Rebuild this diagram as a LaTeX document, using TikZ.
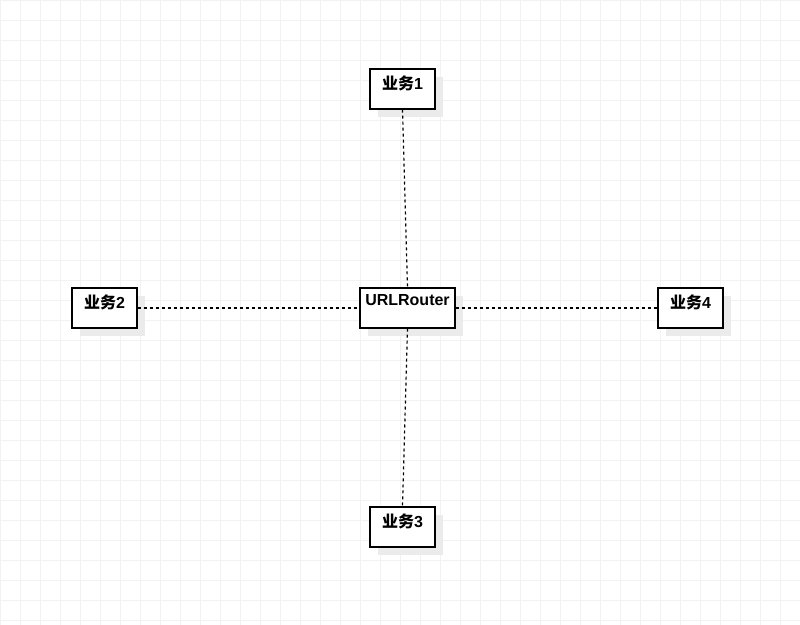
\documentclass[tikz,border=0pt]{standalone}
\usepackage{fontspec}
\setmainfont{Liberation Sans}
\newfontfamily\cjk{Noto Sans CJK SC}
\begin{document}
\begin{tikzpicture}[x=0.75pt,y=-0.75pt,
  box/.style={draw=black,fill=white,line width=0.8pt,minimum width=48.75pt,minimum height=30pt,
    inner sep=0pt},
  lbl/.style={font=\bfseries\fontsize{12}{14}\selectfont,anchor=north,inner sep=0pt},
  conn/.style={line width=0.9pt,dash pattern=on 2.25pt off 2.25pt}]
\fill[white] (0,0) rectangle (800,625);
\useasboundingbox (0,0) rectangle (800,625);
\foreach \x in {0,20,...,800} \draw[black!5,line width=0.5pt] (\x,0) -- (\x,625);
\foreach \y in {0,20,...,620} \draw[black!5,line width=0.5pt] (0,\y) -- (800,\y);
\foreach \cx/\cy/\w in {402.5/89/65, 407.5/308/95, 104.5/308/65, 690.5/308/65, 402.5/527/65}
  \fill[black!8] (\cx-\w/2+8,\cy-20+8) rectangle (\cx+\w/2+8,\cy+20+8);
\node[box,minimum width=48.75pt] (b1) at (402.5,89) {};
\node[box,minimum width=71.25pt] (r) at (407.5,308) {};
\node[box] (b2) at (104.5,308) {};
\node[box] (b4) at (690.5,308) {};
\node[box] (b3) at (402.5,527) {};
\node[lbl] (t1) at ([yshift=-5pt]b1.north) {{\cjk\bfseries 业务}1};
\node[lbl] (tr) at ([yshift=-5pt]r.north) {URLRouter};
\node[lbl] (t2) at ([yshift=-5pt]b2.north) {{\cjk\bfseries 业务}2};
\node[lbl] (t4) at ([yshift=-5pt]b4.north) {{\cjk\bfseries 业务}4};
\node[lbl] (t3) at ([yshift=-5pt]b3.north) {{\cjk\bfseries 业务}3};
\draw[conn] (b1.south) -- (r.north);
\draw[conn] (r.south) -- (b3.north);
\draw[conn] (b2.east) -- (r.west);
\draw[conn] (r.east) -- (b4.west);
\end{tikzpicture}
\end{document}
